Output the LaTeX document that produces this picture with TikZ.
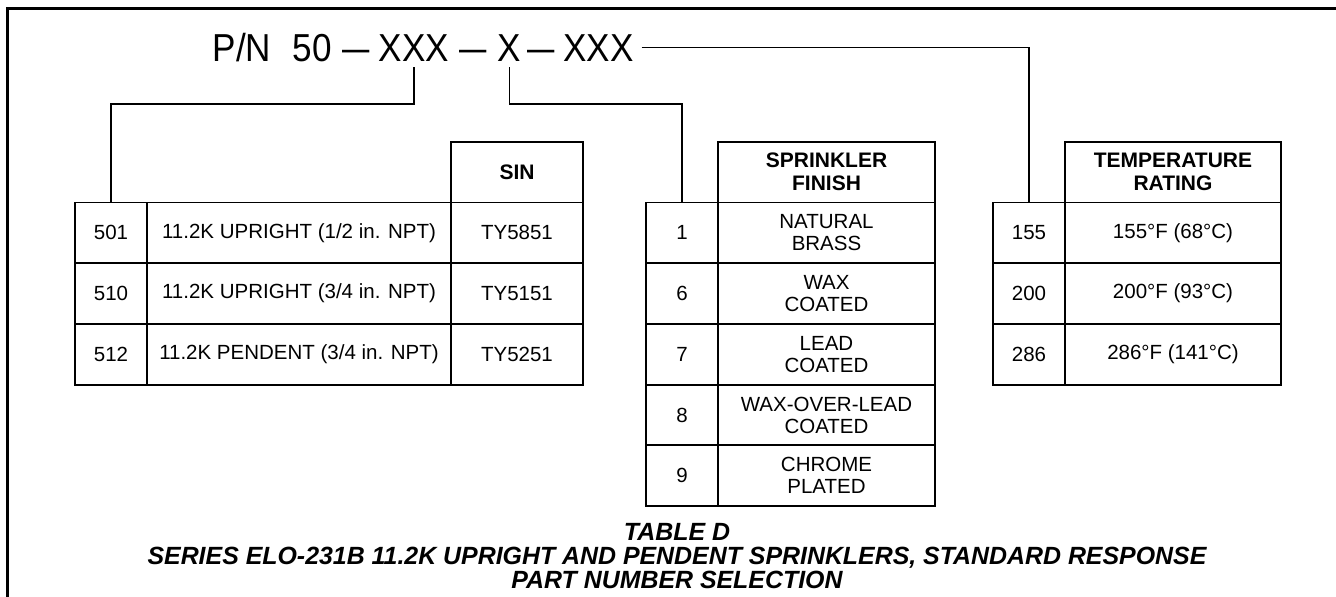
\documentclass[tikz,border=0pt]{standalone}
\usepackage{fontspec}
\setmainfont{Liberation Sans}
\usepackage{graphicx}
\begin{document}
\begin{tikzpicture}[x=1pt,y=-1pt,
  every node/.style={inner sep=0pt, outer sep=0pt},
  cell/.style={draw, line width=1.8pt, align=center, minimum height=60.7pt,
    font=\fontsize{20.5}{22}\selectfont},
  hcell/.style={draw, line width=1.8pt, align=center, minimum height=60.5pt,
    font=\bfseries\fontsize{21}{23}\selectfont},
  numcol/.style={cell, minimum width=72pt},
  conn/.style={line width=1.8pt},
  frame/.style={line width=3pt},
  ttl/.style={font=\fontsize{39}{40}\selectfont, anchor=base},
  capt/.style={font=\bfseries\itshape\fontsize{24.9}{26}\selectfont, anchor=base}]
\useasboundingbox (0,0) rectangle (1336,597);

% frame
\draw[frame] (7,597) -- (7,8.5) -- (1336,8.5);

% title
\node[ttl] (pn)   at (242,61)   {\scalebox{0.9}[1]{P/N}};
\node[ttl] (fifty) at (312.5,61) {\scalebox{0.9}[1]{50}};
\node[ttl] (d1)   at (356.5,61) {\scalebox{0.7}[1]{—}};
\node[ttl] (xxx1) at (414,61)   {\scalebox{0.9}[1]{XXX}};
\node[ttl] (d2)   at (473.5,61) {\scalebox{0.7}[1]{—}};
\node[ttl] (x2)   at (509.5,61) {\scalebox{0.9}[1]{X}};
\node[ttl] (d3)   at (541.5,61) {\scalebox{0.7}[1]{—}};
\node[ttl] (xxx3) at (598.5,61) {\scalebox{0.9}[1]{XXX}};

% left table
\node[hcell, minimum width=132pt] (hsin) at (517,172.25) {SIN};
\node[numcol] (n501) at (111,232.85) {501};
\node[cell, minimum width=304pt] (d501) at (299,232.85) {11.2K UPRIGHT (1/2 in. NPT)};
\node[cell, minimum width=132pt] (s501) at (517,232.85) {TY5851};
\node[numcol] (n510) at (111,293.55) {510};
\node[cell, minimum width=304pt] (d510) at (299,293.55) {11.2K UPRIGHT (3/4 in. NPT)};
\node[cell, minimum width=132pt] (s510) at (517,293.55) {TY5151};
\node[numcol] (n512) at (111,354.25) {512};
\node[cell, minimum width=304pt] (d512) at (299,354.25) {11.2K PENDENT (3/4 in. NPT)};
\node[cell, minimum width=132pt] (s512) at (517,354.25) {TY5251};

% middle table
\node[hcell, minimum width=217pt] (hfin) at (826.5,172.25) {SPRINKLER\\FINISH};
\node[numcol] (n1) at (682,232.85) {1};
\node[cell, minimum width=217pt] (f1) at (826.5,232.85) {NATURAL\\BRASS};
\node[numcol] (n6) at (682,293.55) {6};
\node[cell, minimum width=217pt] (f6) at (826.5,293.55) {WAX\\COATED};
\node[numcol] (n7) at (682,354.25) {7};
\node[cell, minimum width=217pt] (f7) at (826.5,354.25) {LEAD\\COATED};
\node[numcol] (n8) at (682,414.95) {8};
\node[cell, minimum width=217pt] (f8) at (826.5,414.95) {WAX-OVER-LEAD\\COATED};
\node[numcol] (n9) at (682,475.65) {9};
\node[cell, minimum width=217pt] (f9) at (826.5,475.65) {CHROME\\PLATED};

% right table
\node[hcell, minimum width=216pt] (htemp) at (1173,172.25) {TEMPERATURE\\RATING};
\node[numcol] (n155) at (1029,232.85) {155};
\node[cell, minimum width=216pt] (t155) at (1173,232.85) {155°F (68°C)};
\node[numcol] (n200) at (1029,293.55) {200};
\node[cell, minimum width=216pt] (t200) at (1173,293.55) {200°F (93°C)};
\node[numcol] (n286) at (1029,354.25) {286};
\node[cell, minimum width=216pt] (t286) at (1173,354.25) {286°F (141°C)};

% connectors
\draw[conn] ([yshift=-6pt]xxx1.south) -- ++(0,37) -| (n501.north);
\draw[conn] ([yshift=-6pt]x2.south) -- ++(0,37) -| (n1.north);
\draw[conn] ([xshift=8pt]xxx3.east) -| (n155.north);

% caption
\node[capt] (capA) at (677,540) {TABLE D};
\node[capt] (capB) at (677,564) {SERIES ELO-231B 11.2K UPRIGHT AND PENDENT SPRINKLERS, STANDARD RESPONSE};
\node[capt] (capC) at (677,588) {PART NUMBER SELECTION};
\end{tikzpicture}
\end{document}
